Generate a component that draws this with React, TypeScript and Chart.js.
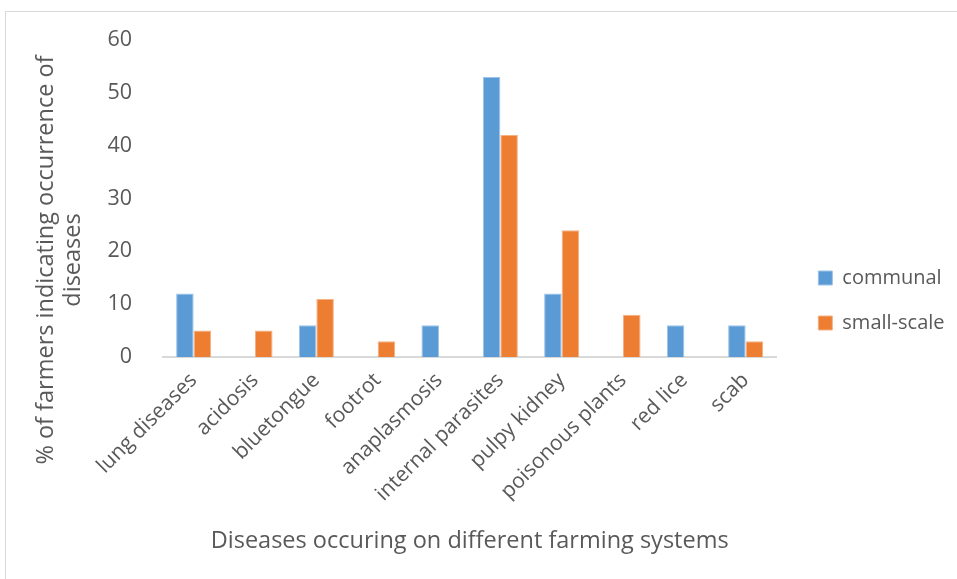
import { useEffect, useRef } from "react";
import { Chart, registerables } from "chart.js";

Chart.register(...registerables);

// Diseases reported per farming system (% of farmers)
const categories = [
  "lung diseases",
  "acidosis",
  "bluetongue",
  "footrot",
  "anaplasmosis",
  "internal parasites",
  "pulpy kidney",
  "poisonous plants",
  "red lice",
  "scab",
];
const communal: (number | null)[] = [12, null, 6, null, 6, 53, 12, null, 6, 6];
const smallScale: (number | null)[] = [5, 5, 11, 3, null, 42, 24, 8, null, 3];

const seriesNames = ["communal", "small-scale"];
const xTitle = "Diseases occuring on different farming systems";
const yTitleLines = ["% of farmers indicating occurrence of", "diseases"];

const yMin = 0;
const yMax = 60;
const yStep = 10;

const FONT = '"Open Sans", "Liberation Sans", sans-serif';
const TEXT = "#595959";
const BLUE = "#5B9BD5";
const ORANGE = "#ED7D31";

// Two-line rotated title for the value axis
const yTitlePlugin = {
  id: "yTitleTwoLine",
  afterDraw(chart: Chart) {
    const ctx = chart.ctx;
    ctx.save();
    ctx.translate(59, 260);
    ctx.rotate(-Math.PI / 2);
    ctx.font = `23.5px ${FONT}`;
    ctx.fillStyle = TEXT;
    ctx.textAlign = "center";
    ctx.textBaseline = "middle";
    ctx.fillText(yTitleLines[0], 0, -13);
    ctx.fillText(yTitleLines[1], 0, 14);
    ctx.restore();
  },
};

export default function App() {
  const canvasRef = useRef<HTMLCanvasElement | null>(null);

  useEffect(() => {
    const canvas = canvasRef.current;
    if (!canvas) return;
    const chart = new Chart(canvas, {
      type: "bar",
      data: {
        labels: categories,
        datasets: [
          {
            label: seriesNames[0],
            data: communal,
            backgroundColor: BLUE,
            borderColor: "#9dc3e6",
            borderWidth: 1,
            categoryPercentage: 0.572,
            barPercentage: 1,
          },
          {
            label: seriesNames[1],
            data: smallScale,
            backgroundColor: ORANGE,
            borderColor: "#f4b183",
            borderWidth: 1,
            categoryPercentage: 0.572,
            barPercentage: 1,
          },
        ],
      },
      options: {
        responsive: false,
        animation: false,
        layout: { padding: { left: 0, top: 40, right: 5, bottom: 24 } },
        plugins: {
          legend: {
            position: "right",
            title: {
              display: true,
              text: " ",
              font: { family: FONT, size: 8, lineHeight: 0.75 },
              padding: 0,
            },
            labels: {
              boxWidth: 14,
              boxHeight: 14,
              padding: 25,
              color: TEXT,
              font: { family: FONT, size: 20 },
            },
          },
          tooltip: { enabled: false },
        },
        scales: {
          x: {
            grid: { display: false },
            border: { display: true, color: "#d9d9d9", width: 2 },
            ticks: {
              color: TEXT,
              font: { family: FONT, size: 21 },
              maxRotation: 45,
              minRotation: 45,
              autoSkip: false,
            },
            title: {
              display: true,
              text: xTitle,
              color: TEXT,
              font: { family: FONT, size: 23.5 },
              padding: { top: 0, bottom: 0 },
            },
            afterFit: (s: any) => {
              s.height = 198;
            },
          },
          y: {
            min: yMin,
            max: yMax,
            grid: { display: false },
            border: { display: false },
            ticks: {
              stepSize: yStep,
              color: TEXT,
              font: { family: FONT, size: 21.5 },
              padding: 23,
            },
            afterFit: (s: any) => {
              s.width = 163;
            },
          },
          gap: {
            type: "linear",
            position: "right",
            display: true,
            grid: { display: false },
            border: { display: false },
            ticks: { display: false },
            afterFit: (s: any) => {
              s.width = 17;
            },
          },
        },
      },
      plugins: [yTitlePlugin],
    });
    return () => chart.destroy();
  }, []);

  return (
    <div
      style={{
        position: "fixed",
        left: 0,
        top: 0,
        width: 957,
        height: 579,
        overflow: "hidden",
        background: "#ffffff",
      }}
    >
      <div
        style={{
          position: "absolute",
          left: 5,
          top: 11,
          width: 1000,
          height: 1000,
          border: "1px solid #d9d9d9",
          boxSizing: "border-box",
        }}
      />
      <canvas
        ref={canvasRef}
        width={957}
        height={579}
        style={{ position: "absolute", left: 0, top: 0, width: 957, height: 579 }}
      />
    </div>
  );
}
